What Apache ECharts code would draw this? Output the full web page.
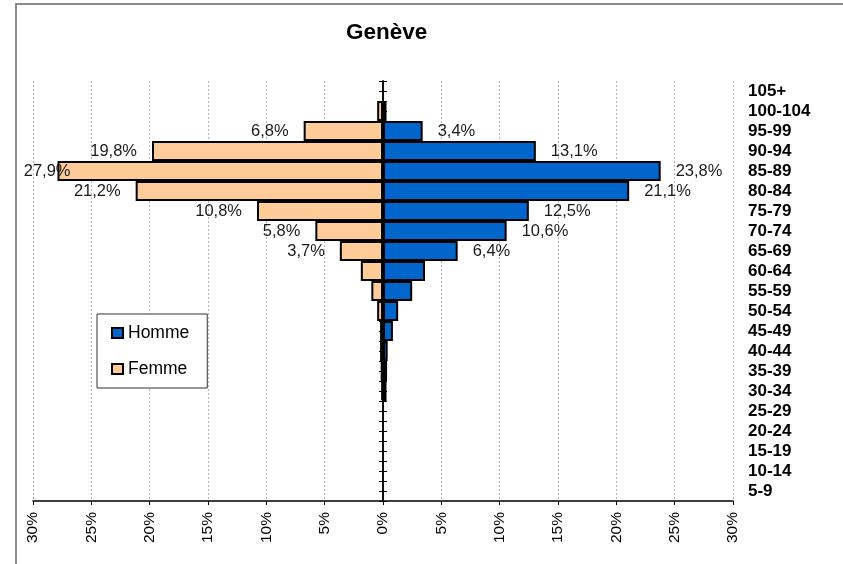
<!DOCTYPE html>
<html>
<head>
<meta charset="utf-8">
<script src="https://cdn.jsdelivr.net/npm/echarts@6/dist/echarts.min.js"></script>
<style>
  html, body { margin: 0; padding: 0; background: #fff; }
  #main { width: 843px; height: 564px; }
</style>
</head>
<body>
<div id="main"></div>
<script>
// age groups from bottom to top
const ageGroups = ['5-9', '10-14', '15-19', '20-24', '25-29', '30-34', '35-39', '40-44', '45-49', '50-54',
  '55-59', '60-64', '65-69', '70-74', '75-79', '80-84', '85-89', '90-94', '95-99', '100-104', '105+']
// share in %
const femme = [0, 0, 0, 0, 0, 0.15, 0.2, 0.25, 0.25, 0.5, 1.0, 1.9, 3.7, 5.8, 10.8, 21.2, 27.9, 19.8, 6.8, 0.5, 0]
const homme = [0, 0, 0, 0, 0, 0.3, 0.35, 0.4, 0.85, 1.3, 2.5, 3.6, 6.4, 10.6, 12.5, 21.1, 23.8, 13.1, 3.4, 0.3, 0]
const labelledGroups = ['65-69', '70-74', '75-79', '80-84', '85-89', '90-94', '95-99']
const xMin = -30
const xMax = 30
const xStep = 5

const font = 'Liberation Sans'
const fmt = (v) => Math.abs(v).toFixed(1).replace('.', ',') + '%'

const labelFormatter = (p) => (labelledGroups.includes(p.name) ? fmt(p.value) : '')

// the widest left label would leave the frame: Excel pulls it back over the bar end
const femmeData = femme.map((v) => {
  if (v === 0) return '-'
  if (v > 27) return { value: -v, label: { distance: -13 } }
  return -v
})
const hommeData = homme.map((v) => (v === 0 ? '-' : v))

const tickAxis = (position) => ({
  type: 'value',
  position: position,
  min: 0,
  max: ageGroups.length * 2,
  interval: 1,
  axisLine: { show: true, onZero: true, onZeroAxisIndex: 0, lineStyle: { color: '#000', width: 1.5 } },
  axisTick: { show: true, length: 4, lineStyle: { color: '#000', width: 1 } },
  axisLabel: { show: false },
  splitLine: { show: false },
})

const option = {
  animation: false,
  backgroundColor: '#fff',
  textStyle: { fontFamily: font },
  title: {
    text: 'Genève',
    left: 341,
    top: 16,
    textStyle: { fontFamily: font, fontSize: 22.5, fontWeight: 'bold', color: '#000' },
  },
  graphic: [
    {
      type: 'rect',
      shape: { x: 16, y: 4, width: 900, height: 700 },
      style: { fill: null, stroke: '#8a8a8a', lineWidth: 2 },
      silent: true,
      z: -1,
    },
  ],
  legend: {
    data: ['Homme', 'Femme'],
    orient: 'vertical',
    left: 97,
    top: 314,
    padding: [10, 18, 10, 14],
    itemGap: 18,
    itemWidth: 11,
    itemHeight: 10,
    icon: 'rect',
    borderColor: '#333',
    borderWidth: 1,
    backgroundColor: '#fff',
    textStyle: { fontFamily: font, fontSize: 17.5, color: '#000' },
  },
  grid: { left: 33, right: 110, top: 81, bottom: 63, containLabel: false },
  xAxis: {
    type: 'value',
    min: xMin,
    max: xMax,
    interval: xStep,
    axisLine: { show: true, onZero: false, lineStyle: { color: '#000', width: 1.5 } },
    axisTick: { show: true, length: 4, lineStyle: { color: '#000' } },
    axisLabel: {
      rotate: 90,
      margin: 11,
      fontFamily: font,
      fontSize: 15.5,
      color: '#000',
      formatter: (v) => Math.abs(v) + '%',
    },
    splitLine: { show: true, lineStyle: { color: '#b4b4b4', type: [2, 2], width: 1 } },
  },
  yAxis: [
    {
      type: 'category',
      data: ageGroups,
      position: 'right',
      axisLine: { show: false, onZero: false },
      axisTick: { show: false },
      axisLabel: { interval: 0, margin: 15, fontFamily: font, fontSize: 17, fontWeight: 'bold', color: '#000' },
      splitLine: { show: false },
    },
    tickAxis('left'),
    tickAxis('right'),
  ],
  series: [
    {
      name: 'Femme',
      type: 'bar',
      data: femmeData,
      barCategoryGap: '0%',
      barGap: '-100%',
      itemStyle: { color: '#FFCC99', borderColor: '#000', borderWidth: 2 },
      label: {
        show: true,
        position: 'left',
        distance: 15,
        fontFamily: font,
        fontSize: 16.5,
        color: '#1a1a1a',
        formatter: labelFormatter,
      },
      z: 2,
    },
    {
      name: 'Homme',
      type: 'bar',
      data: hommeData,
      barCategoryGap: '0%',
      barGap: '-100%',
      itemStyle: { color: '#0066CC', borderColor: '#000', borderWidth: 2 },
      label: {
        show: true,
        position: 'right',
        distance: 15,
        fontFamily: font,
        fontSize: 16.5,
        color: '#1a1a1a',
        formatter: labelFormatter,
      },
      z: 2,
    },
  ],
}

const chart = echarts.init(document.getElementById('main'), null, { renderer: 'canvas' })
chart.setOption(option)
</script>
</body>
</html>
